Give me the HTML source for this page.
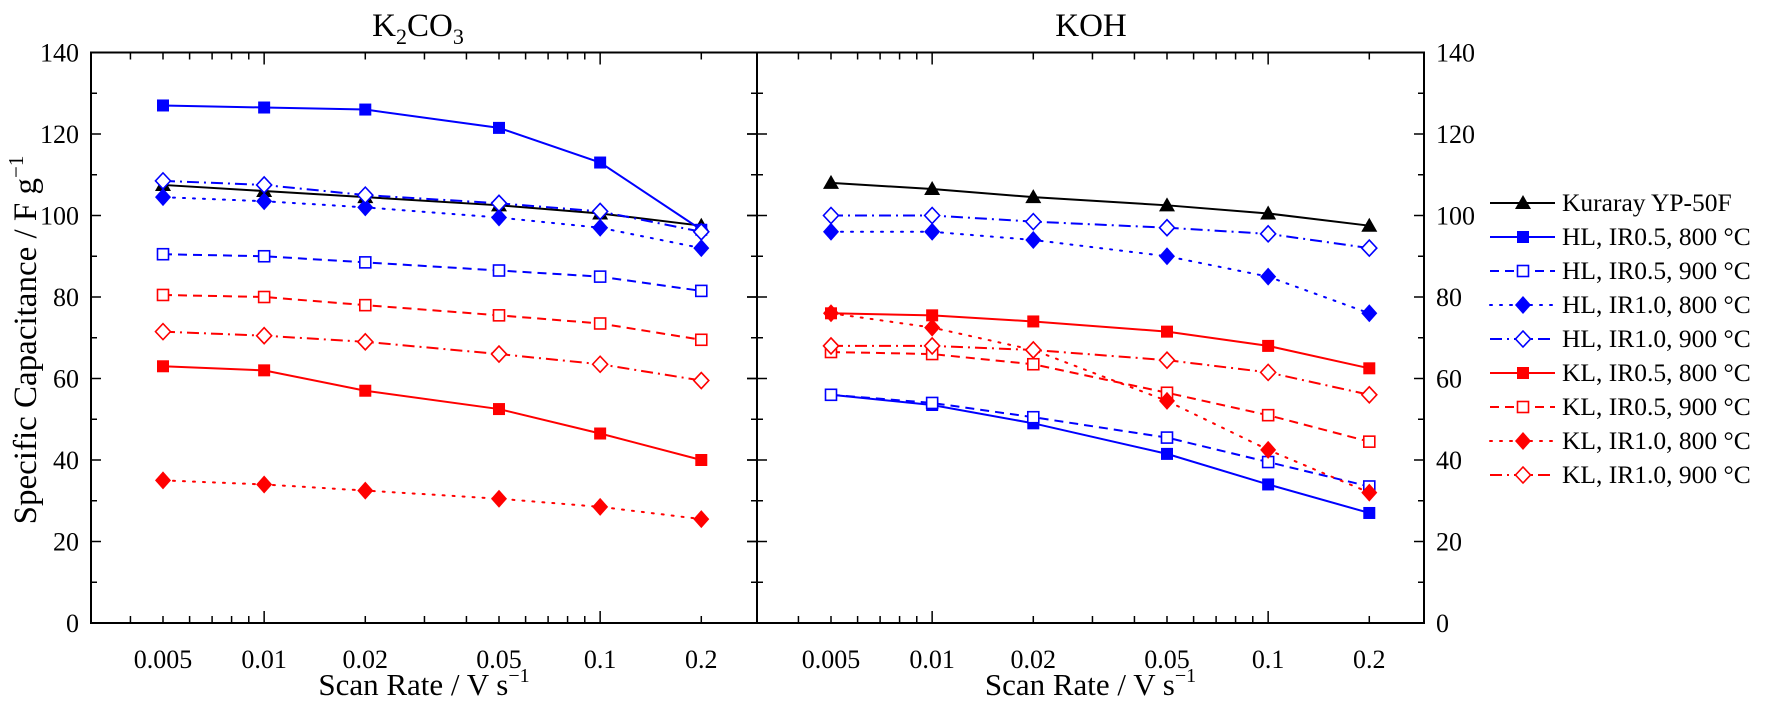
<!DOCTYPE html>
<html><head><meta charset="utf-8"><style>
html,body{margin:0;padding:0;background:#fff;}
svg{display:block;font-family:"Liberation Serif",serif;}
</style></head><body>
<svg id="chart" width="1771" height="704" viewBox="0 0 1771 704"></svg>
<script>
const rates = [0.005, 0.01, 0.02, 0.05, 0.1, 0.2];
const xTickLabels = ["0.005","0.01","0.02","0.05","0.1","0.2"];
const yTicks = [0,20,40,60,80,100,120,140];
const seriesNames = ["Kuraray YP-50F","HL, IR0.5, 800 °C","HL, IR0.5, 900 °C","HL, IR1.0, 800 °C","HL, IR1.0, 900 °C","KL, IR0.5, 800 °C","KL, IR0.5, 900 °C","KL, IR1.0, 800 °C","KL, IR1.0, 900 °C"];
const k2co3Kuraray = [107.5,106,104.5,102.5,100.5,97.5];
const k2co3HL05_800 = [127,126.5,126,121.5,113,96.5];
const k2co3HL05_900 = [90.5,90,88.5,86.5,85,81.5];
const k2co3HL10_800 = [104.5,103.5,102,99.5,97,92];
const k2co3HL10_900 = [108.5,107.5,105,103,101,96];
const k2co3KL05_800 = [63,62,57,52.5,46.5,40];
const k2co3KL05_900 = [80.5,80,78,75.5,73.5,69.5];
const k2co3KL10_800 = [35,34,32.5,30.5,28.5,25.5];
const k2co3KL10_900 = [71.5,70.5,69,66,63.5,59.5];
const kohKuraray = [108,106.5,104.5,102.5,100.5,97.5];
const kohHL05_800 = [56,53.5,49,41.5,34,27];
const kohHL05_900 = [56,54,50.5,45.5,39.5,33.5];
const kohHL10_800 = [96,96,94,90,85,76];
const kohHL10_900 = [100,100,98.5,97,95.5,92];
const kohKL05_800 = [76,75.5,74,71.5,68,62.5];
const kohKL05_900 = [66.5,66,63.5,56.5,51,44.5];
const kohKL10_800 = [76,72.5,67,54.5,42.5,32];
const kohKL10_900 = [68,68,67,64.5,61.5,56];

const NS="http://www.w3.org/2000/svg";
const svg=document.getElementById('chart');
function el(tag,attrs,parent){const e=document.createElementNS(NS,tag);for(const k in attrs)e.setAttribute(k,attrs[k]);(parent||svg).appendChild(e);return e;}

const styles=[
 {c:"#000",d:"",m:"tri"},
 {c:"#0000ff",d:"",m:"sq"},
 {c:"#0000ff",d:"9,6",m:"sqo"},
 {c:"#0000ff",d:"2,8",m:"dia"},
 {c:"#0000ff",d:"12,5,2,5",m:"diao"},
 {c:"#ff0000",d:"",m:"sq"},
 {c:"#ff0000",d:"9,6",m:"sqo"},
 {c:"#ff0000",d:"2,8",m:"dia"},
 {c:"#ff0000",d:"12,5,2,5",m:"diao"}];

const Y0=623, PX20=81.5;
function yScale(v){return Y0 - v/20*PX20;}
const DEC=336;
function makeX(x005){return v=>x005+Math.log10(v/0.005)*DEC;}
const panels=[
 {name:"k2co3",left:91,right:757,x:makeX(163),data:[k2co3Kuraray,k2co3HL05_800,k2co3HL05_900,k2co3HL10_800,k2co3HL10_900,k2co3KL05_800,k2co3KL05_900,k2co3KL10_800,k2co3KL10_900]},
 {name:"koh",left:757,right:1424,x:makeX(831),data:[kohKuraray,kohHL05_800,kohHL05_900,kohHL10_800,kohHL10_900,kohKL05_800,kohKL05_900,kohKL10_800,kohKL10_900]}];
const TOP=yScale(140);

function marker(g,type,cx,cy,color){
  let e;
  if(type==="tri") e=el('polygon',{points:`${cx},${cy-8} ${cx+8},${cy+6} ${cx-8},${cy+6}`,fill:color},g);
  else if(type==="sq") e=el('rect',{x:cx-6,y:cy-6,width:12,height:12,fill:color},g);
  else if(type==="sqo") e=el('rect',{x:cx-5.5,y:cy-5.5,width:11,height:11,fill:"#fff",stroke:color,'stroke-width':1.6},g);
  else if(type==="dia") e=el('polygon',{points:`${cx},${cy-9} ${cx+8},${cy} ${cx},${cy+9} ${cx-8},${cy}`,fill:color},g);
  else e=el('polygon',{points:`${cx},${cy-8} ${cx+7.5},${cy} ${cx},${cy+8} ${cx-7.5},${cy}`,fill:"#fff",stroke:color,'stroke-width':1.6},g);
  return e;
}

panels.forEach((p,pi)=>{
  const g=el('g',{});
  
  
  const frame=el('rect',{x:p.left,y:TOP,width:p.right-p.left,height:Y0-TOP,fill:"none",stroke:"#000",'stroke-width':2},g);
  
  
  for(let v=0;v<=140;v+=10){
    const y=yScale(v), len=(v%20===0)?10:6;
    el('line',{x1:p.left,y1:y,x2:p.left+len,y2:y,stroke:"#000",'stroke-width':1.5},g);
    el('line',{x1:p.right,y1:y,x2:p.right-len,y2:y,stroke:"#000",'stroke-width':1.5},g);
    if(pi===1) el('line',{x1:p.left,y1:y,x2:p.left-len,y2:y,stroke:"#000",'stroke-width':1.5},g);
  }
  const xmin=0.005*Math.pow(10,-(p.x(0.005)-p.left)/DEC), xmax=0.2*Math.pow(10,(p.right-p.x(0.2))/DEC);
  for(let e=-3;e<=0;e++){for(let m=1;m<10;m++){const v=m*Math.pow(10,e);if(v<xmin||v>xmax)continue;
    const x=p.x(v);const major=(m===1);const len=major?12:7;
    el('line',{x1:x,y1:Y0,x2:x,y2:Y0-len,stroke:"#000",'stroke-width':1.5},g);
    el('line',{x1:x,y1:TOP,x2:x,y2:TOP+len,stroke:"#000",'stroke-width':1.5},g);}}
  rates.forEach((r,i)=>{
    const t=el('text',{x:p.x(r),y:Y0+45,'text-anchor':'middle','font-size':26,fill:'#000'},g);
    t.textContent=xTickLabels[i];
    
    
  });
  yTicks.forEach(v=>{
    const t=el('text',{x:pi===0?p.left-12:p.right+12,y:yScale(v)+9,'text-anchor':pi===0?'end':'start','font-size':26,fill:'#000'},g);
    t.textContent=v;
    
    
  });
  const xt=el('text',{x:(p.left+p.right)/2,y:695,'text-anchor':'middle','font-size':31,fill:'#000'},g);
  xt.innerHTML='Scan Rate / V s<tspan dy="-13" font-size="20">−1</tspan>';
  
  
  p.data.forEach((vals,si)=>{
    const st=styles[si];
    const sg=el('g',{},g);
    
    
    const pts=vals.map((v,i)=>p.x(rates[i])+','+yScale(v)).join(' ');
    const line=el('polyline',{points:pts,fill:'none',stroke:st.c,'stroke-width':2,'stroke-dasharray':st.d,'stroke-linecap':st.d==="2,8"?"round":"butt"},sg);
    
    
    vals.forEach((v,i)=>{
      const mk=marker(sg,st.m,p.x(rates[i]),yScale(v),st.c);
      
      
    });
  });
});

const t1=el('text',{x:418,y:36,'text-anchor':'middle','font-size':33,fill:'#000'});
t1.innerHTML='K<tspan dy="8" font-size="22">2</tspan><tspan dy="-8">CO</tspan><tspan dy="8" font-size="22">3</tspan>';


const t2=el('text',{x:1091,y:36,'text-anchor':'middle','font-size':33,fill:'#000'});
t2.textContent='KOH';


const yt=el('text',{x:0,y:0,'text-anchor':'middle','font-size':33,fill:'#000',transform:'translate(36,340) rotate(-90)'});
yt.innerHTML='Specific Capacitance / F g<tspan dy="-13" font-size="21">−1</tspan>';



const lg=el('g',{});


seriesNames.forEach((n,i)=>{
  const st=styles[i], y=203+i*34;
  const eg=el('g',{},lg);
  
  
  el('line',{x1:1490,y1:y,x2:1555,y2:y,stroke:st.c,'stroke-width':2,'stroke-dasharray':st.d,'stroke-linecap':st.d==="2,8"?"round":"butt"},eg);
  marker(eg,st.m,1523,y,st.c);
  const t=el('text',{x:1562,y:y+8,'font-size':25.5,fill:'#000'},eg);
  t.textContent=n;
});
</script>
</body></html>
